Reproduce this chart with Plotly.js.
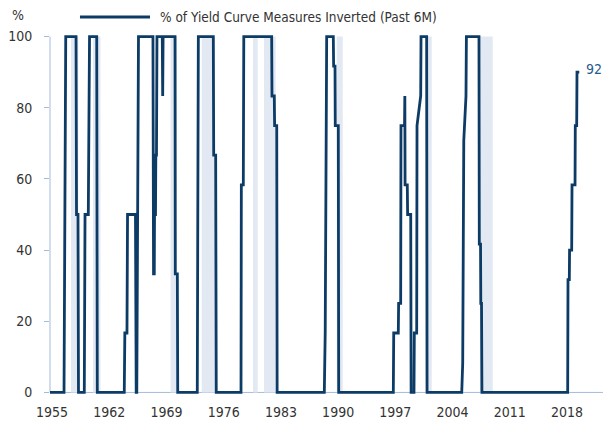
<!DOCTYPE html>
<html><head><meta charset="utf-8">
<script src="https://cdn.plot.ly/plotly-3.0.1.min.js"></script>
<style>html,body{margin:0;padding:0;background:#fff}#chart{width:611px;height:421px}</style>
</head><body><div id="chart"></div>
<script>
const years = [1954.75,1956.47,1956.68,1957.94,1958.00,1958.18,1958.24,1958.95,1959.04,1959.44,1959.59,1960.47,1960.54,
1963.84,1963.91,1964.17,1964.24,1965.21,1965.30,1965.37,1965.58,1967.35,1967.42,1967.51,1967.54,1967.66,1967.70,1967.78,1967.84,
1968.49,1968.54,1968.59,1970.05,1970.08,1970.33,1970.38,1972.77,1972.90,1974.73,1974.78,1975.02,1975.09,
1978.12,1978.16,1978.40,1978.46,1981.87,1981.91,1982.19,1982.23,1982.49,1982.54,
1988.31,1988.42,1988.60,1989.41,1989.45,1989.62,1989.65,1990.02,1990.07,
1996.75,1996.80,1997.36,1997.40,1997.65,1997.69,1998.12,1998.16,1998.19,1998.46,1998.50,1998.88,1998.93,
1999.28,1999.32,1999.61,1999.65,2000.10,2000.14,2000.83,2000.88,
2005.12,2005.24,2005.37,2005.64,2005.69,2007.23,2007.27,2007.42,2007.45,2007.54,2007.59,
2018.08,2018.12,2018.28,2018.31,2018.57,2018.61,2018.98,2019.01,2019.18,2019.22,2019.50];
const pctInverted = [0,0,100,100,50,50,0,0,50,50,100,100,0,
0,16.7,16.7,50,50,0,0,100,100,33.3,33.3,50,50,66.7,66.7,100,
100,83.3,100,100,33.3,33.3,0,0,100,100,66.7,66.7,0,
0,58.3,58.3,100,100,83.3,83.3,75,75,0,
0,16.7,100,100,91.7,91.7,75,75,0,
0,16.7,16.7,25,25,75,75,83.3,58.3,58.3,50,50,0,
0,16.7,16.7,75,83.3,100,100,0,
0,8.3,70.8,83.3,100,100,41.7,41.7,25,25,0,
0,31.7,31.7,40,40,58.3,58.3,75,75,90,90];
const recessionStart = [1957.32,1960.02,1969.50,1973.31,1979.59,1980.93,1989.83,2000.69,2007.35];
const recessionEnd   = [1958.22,1960.93,1970.29,1974.94,1980.16,1982.36,1990.56,2001.45,2008.91];
const xTickVals = [1955,1962,1969,1976,1983,1990,1997,2004,2011,2018];
const yTickVals = [0,20,40,60,80,100];
const seriesName = '% of Yield Curve Measures Inverted (Past 6M)';
const lastLabel = '92';
const yUnit = '%';

const NAVY = '#0c3b66';
const AXIS = '#a3bbdb';
const BAND = '#e2e9f3';
const TEXT = '#333333';
const FONT = "'Liberation Sans Narrow', 'DejaVu Sans Condensed', 'Arial Narrow', sans-serif";

const shapes = recessionStart.map((s, i) => ({
  type: 'rect', xref: 'x', yref: 'y', x0: s, x1: recessionEnd[i], y0: 0, y1: 100,
  fillcolor: BAND, line: {width: 0}, layer: 'below'
}));
shapes.push({type:'line', xref:'paper', yref:'y', x0:0, x1:0, y0:0, y1:100, line:{color:AXIS, width:1}, layer:'below'});
shapes.push({type:'line', xref:'paper', yref:'y', x0:0, x1:1, y0:0, y1:0, line:{color:AXIS, width:1}, layer:'below'});
// legend sample line
shapes.push({type:'line', xref:'paper', yref:'paper', x0:0.0542, x1:0.1808, y0:1.044, y1:1.044, line:{color:NAVY, width:3}});

const trace = {
  x: years, y: pctInverted, type: 'scatter', mode: 'lines', name: seriesName,
  line: {color: NAVY, width: 2.8, shape: 'linear'}, hoverinfo: 'x+y', showlegend: false
};

const layout = {
  width: 611, height: 421,
  margin: {l: 50, r: 8, t: 33, b: 25},
  paper_bgcolor: '#fff', plot_bgcolor: '#fff',
  font: {family: FONT, size: 14, color: TEXT},
  showlegend: false,
  xaxis: {range: [1954.755, 2022.4], tickvals: xTickVals, ticktext: xTickVals.map(String),
    showgrid: false, zeroline: false, showline: false, ticks: '', ticklabelstandoff: 6,
    tickfont: {family: FONT, size: 14, color: TEXT}},
  yaxis: {range: [-1, 101], tickvals: yTickVals, ticktext: yTickVals.map(String),
    showgrid: false, zeroline: false, showline: false, ticks: 'outside', ticklen: 5, tickwidth: 1,
    tickcolor: AXIS, ticklabelstandoff: 9, tickfont: {family: FONT, size: 14, color: TEXT}},
  shapes: shapes,
  annotations: [
    {xref:'paper', yref:'paper', x:0.1953, y:1.044, xanchor:'left', yanchor:'middle', text: seriesName,
     showarrow:false, font:{family:FONT, size:13.5, color:TEXT}},
    {xref:'paper', yref:'paper', x:-0.058, y:1.05, xanchor:'center', yanchor:'middle', text: yUnit,
     showarrow:false, font:{family:FONT, size:14, color:TEXT}},
    {xref:'x', yref:'y', x: years[years.length-1], y: pctInverted[pctInverted.length-1], xanchor:'left', yanchor:'middle',
     xshift: 5, yshift: 3, text: lastLabel, showarrow:false, font:{family:FONT, size:14, color:'#2a5a8c'}}
  ]
};

Plotly.newPlot('chart', [trace], layout, {displayModeBar: false, staticPlot: true});
</script>
</body></html>
